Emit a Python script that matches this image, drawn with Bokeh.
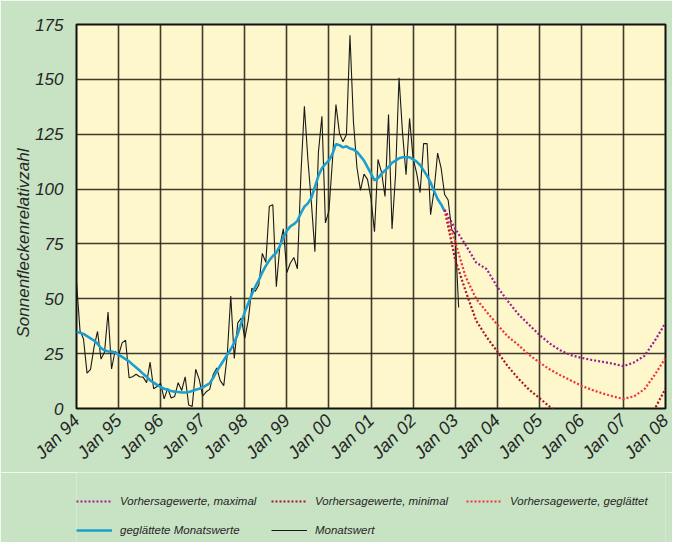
import math
from bokeh.plotting import figure
from bokeh.layouts import column
from bokeh.models import Legend, LegendItem, FixedTicker, Title
from bokeh.embed import file_html
from bokeh.resources import INLINE

# ---- data ----
start_year = 1994
tick_years = list(range(1994, 2009))
tick_labels = ["Jan 94", "Jan 95", "Jan 96", "Jan 97", "Jan 98", "Jan 99", "Jan 00",
               "Jan 01", "Jan 02", "Jan 03", "Jan 04", "Jan 05", "Jan 06", "Jan 07", "Jan 08"]
y_ticks = [0, 25, 50, 75, 100, 125, 150, 175]

# monthly values Jan 1994 .. Feb 2003
monatswert = [
    57.8, 35.5, 31.7, 16.1, 17.8, 28.0, 35.1, 22.5, 25.7, 44.0, 18.0, 26.2,
    24.2, 29.9, 31.1, 14.0, 14.5, 15.6, 14.5, 14.3, 11.8, 21.1, 9.0, 10.0,
    11.5, 4.4, 9.2, 4.8, 5.5, 11.8, 8.2, 14.4, 1.6, 0.9, 17.9, 13.3,
    5.7, 7.6, 8.7, 15.5, 18.5, 12.7, 10.4, 24.4, 51.3, 22.8, 39.0, 41.2,
    31.9, 40.3, 54.8, 53.4, 56.3, 70.7, 66.6, 92.2, 92.9, 55.5, 74.0, 81.9,
    62.0, 66.3, 68.8, 63.7, 106.4, 137.7, 113.5, 93.7, 71.5, 116.7, 133.2, 84.6,
    90.1, 112.9, 138.5, 125.5, 121.6, 124.9, 170.1, 130.5, 109.7, 99.4, 106.8, 104.4,
    95.6, 80.6, 113.5, 107.7, 96.6, 134.0, 81.8, 106.4, 150.7, 125.5, 106.5, 132.2,
    114.1, 107.4, 98.4, 120.7, 120.8, 88.3, 99.6, 116.4, 109.6, 97.5, 95.0, 81.6,
    79.5, 46.0,
]

# smoothed monthly values Jan 1994 .. Oct 2002
geglaettet = [
    35, 34.5, 34, 33, 32, 31, 29.5, 27.5, 26.5, 26, 26, 25.5,
    24.5, 23.5, 22.5, 21.5, 20, 18.7, 17.3, 15.8, 14.5, 12.8, 11.8, 10.8,
    9.8, 9, 8.5, 8, 7.7, 7.5, 7.3, 7.3, 7.5, 8, 8.5, 9,
    9.6, 10.5, 11.5, 14, 17, 19.5, 22, 24.5, 27, 30, 34, 39,
    44, 48, 52, 55.5, 58.5, 62, 65, 67.5, 69.5, 71, 74, 78,
    81, 83, 84, 85.5, 89, 92, 93.5, 96, 101, 106, 109.5, 111.5,
    113, 116, 120.5, 120, 119, 119.5, 118.5, 118, 117, 115, 113, 110,
    107, 104, 105, 107, 108.5, 110, 112, 113, 114, 114.5, 114.5, 114.5,
    113.5, 112.5, 111, 108.5, 106, 103, 99, 95.5, 93, 90,
]

# forecasts (month index counted from Jan 1994)
fc_months = [105, 108, 111, 114, 117, 120, 123, 126, 129, 132, 135, 138, 141,
             144, 147, 150, 153, 156, 159, 162, 165, 168]
fc_max = [90.5, 82, 74.5, 66.5, 63.5, 55.5, 49, 43, 38.3, 33.6, 29.6, 26.5, 24.3,
          23.1, 22.1, 21.3, 20.4, 19.3, 21, 24, 31, 39]
fc_smooth = [90.5, 76, 60, 50, 44, 38.3, 32.8, 29, 24.6, 21, 17.8, 15.2, 12.8,
             10.4, 8.5, 6.9, 5.5, 4.4, 5.5, 8.8, 15.5, 23]
fc_min = [90.5, 68, 53.5, 40, 32.5, 26, 19.3, 13.7, 8.7, 4.8, 0.8, -3, -6,
          -8.5, -10.5, -12, -13, -13, -11, -7, 0, 9]

legend_labels_row1 = ["Vorhersagewerte, maximal", "Vorhersagewerte, minimal",
                      "Vorhersagewerte, geglättet"]
legend_labels_row2 = ["geglättete Monatswerte", "Monatswert"]


def to_year(idx):
    return [start_year + i / 12.0 for i in idx]


FONT = "Liberation Sans"
TXT = "#262626"
GREEN = "#c8e3c3"
C_BLACK, C_BLUE = "#1a1a1a", "#1c9fd0"
C_MIN, C_SMOOTH, C_MAX = "#a8142e", "#f2303e", "#9c1e8e"

p = figure(width=672, height=472, x_range=(1994, 2008), y_range=(0, 175),
           output_backend="svg", toolbar_location=None,
           min_border_left=76, min_border_right=7, min_border_top=24,
           min_border_bottom=64)
p.background_fill_color = "#fdf7cb"
p.border_fill_color = GREEN
p.outline_line_color = "#111111"
p.outline_line_width = 2

p.xaxis.ticker = FixedTicker(ticks=tick_years)
p.xaxis.major_label_overrides = {y: l for y, l in zip(tick_years, tick_labels)}
p.xaxis.major_label_orientation = math.pi / 4
p.yaxis.ticker = FixedTicker(ticks=y_ticks)

for ax in (p.xaxis, p.yaxis):
    ax.axis_line_color = None
    ax.major_tick_line_color = None
    ax.minor_tick_line_color = None
    ax.major_label_text_font = FONT
    ax.major_label_text_font_style = "italic"
    ax.major_label_text_color = TXT
p.xaxis.major_label_text_font_size = "18px"
p.xaxis.major_label_standoff = 3
p.yaxis.major_label_text_font_size = "17px"
p.yaxis.major_label_standoff = 7

ylab = Title(text="Sonnenfleckenrelativzahl", align="left", offset=71,
             text_font=FONT, text_font_style="italic", text_font_size="17px",
             text_color=TXT, standoff=0)
p.add_layout(ylab, "left")

p.xgrid.ticker = FixedTicker(ticks=tick_years)
p.ygrid.ticker = FixedTicker(ticks=y_ticks)
for g in (p.xgrid, p.ygrid):
    g.grid_line_color = "#2b2618"
    g.grid_line_width = 1.6
    g.grid_line_alpha = 0.9

mx = to_year(range(len(monatswert)))
gx = to_year(range(len(geglaettet)))
fx = to_year(fc_months)
p.line(mx, monatswert, line_color=C_BLACK, line_width=1.1)
p.line(gx, geglaettet, line_color=C_BLUE, line_width=2.6)
p.line(fx, fc_min, line_color=C_MIN, line_width=2.2, line_dash="2 2")
p.line(fx, fc_smooth, line_color=C_SMOOTH, line_width=2.2, line_dash="2 2")
p.line(fx, fc_max, line_color=C_MAX, line_width=2.2, line_dash="2 2")

# ---- legend strip below the chart (series drawn again, outside its view, as legend keys) ----
q = figure(width=672, height=70, x_range=(0, 1), y_range=(0, 1),
           output_backend="svg", toolbar_location=None,
           x_axis_type=None, y_axis_type=None, min_border=0)
q.background_fill_color = GREEN
q.border_fill_color = GREEN
q.outline_line_color = None
q.xgrid.visible = False
q.ygrid.visible = False

lr_max = q.line(fx, fc_max, line_color=C_MAX, line_width=2.2, line_dash="2 2")
lr_min = q.line(fx, fc_min, line_color=C_MIN, line_width=2.2, line_dash="2 2")
lr_smooth = q.line(fx, fc_smooth, line_color=C_SMOOTH, line_width=2.2, line_dash="2 2")
lr_blue = q.line(gx, geglaettet, line_color=C_BLUE, line_width=2.6)
lr_black = q.line(mx, monatswert, line_color=C_BLACK, line_width=1.1)


def make_legend(labels, renderers, loc):
    lg = Legend(items=[LegendItem(label=t, renderers=[r]) for t, r in zip(labels, renderers)],
                orientation="horizontal", location=loc)
    lg.background_fill_alpha = 0
    lg.border_line_alpha = 0
    lg.label_text_font = FONT
    lg.label_text_font_style = "italic"
    lg.label_text_font_size = "11.5px"
    lg.label_text_color = TXT
    lg.glyph_width = 36
    lg.glyph_height = 16
    lg.label_height = 16
    lg.label_standoff = 8
    lg.label_width = 140
    lg.spacing = 11
    lg.padding = 0
    lg.margin = 0
    return lg


leg1 = make_legend(legend_labels_row1, [lr_max, lr_min, lr_smooth], (0, 33))
leg2 = make_legend(legend_labels_row2, [lr_blue, lr_black], (0, 4))
q.add_layout(leg1)
q.add_layout(leg2)

layout = column(p, q, spacing=0)
open("out.html", "w").write(file_html(layout, INLINE))
